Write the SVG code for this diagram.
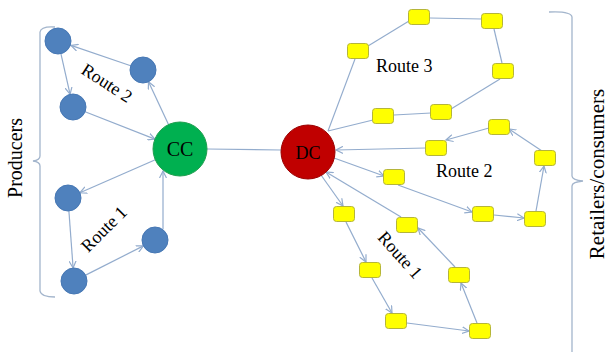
<svg xmlns="http://www.w3.org/2000/svg" width="608" height="352" viewBox="0 0 608 352">
<defs>
<style>
.e{stroke:#93ACCD;stroke-width:1.2;fill:none}
.a{marker-end:url(#ah)}
.br{stroke:#A3B5CC;stroke-width:1.3;fill:none}
.p{fill:#4F81BD;stroke:#4677B4;stroke-width:1}
.r{fill:#FFFF00;stroke:#B5B53A;stroke-width:1}
.t{font-family:"Liberation Serif","Times New Roman",serif;fill:#000}
</style>
<marker id="ah" markerWidth="9" markerHeight="8" refX="7" refY="4" orient="auto" markerUnits="userSpaceOnUse">
<path d="M0,0.5 L7,4 L0,7.5" fill="none" stroke="#93ACCD" stroke-width="1.2"/>
</marker>
</defs>
<rect width="608" height="352" fill="#fff"/>

<g id="brackets">
<path class="br" d="M55,27 Q41,26 40,32 L40,156 Q40,160 33,161 Q40,162 40,166 L40,291 Q41,297 55,297"/>
<path class="br" d="M549,12 Q571,11 572,17 L572,176 Q572,180 583,181 Q572,182 572,186 L572,352"/>
</g>

<g id="connectors">
<line class="e a" x1="130.7" y1="65.8" x2="71" y2="45.4"/>
<line class="e a" x1="60.9" y1="53.7" x2="70.1" y2="94.3"/>
<line class="e a" x1="85.1" y1="111.7" x2="154.9" y2="139.1"/>
<line class="e a" x1="168.5" y1="124.5" x2="148.5" y2="81.8"/>
<line class="e a" x1="155.3" y1="159.8" x2="79.9" y2="192.8"/>
<line class="e a" x1="68.9" y1="211" x2="73.1" y2="268"/>
<line class="e a" x1="85.6" y1="275.1" x2="143.4" y2="245.9"/>
<line class="e a" x1="163" y1="229" x2="163" y2="171"/>
<line class="e" x1="207" y1="149" x2="281" y2="150"/>
<line class="e" x1="328" y1="131" x2="355" y2="59"/>
<line class="e" x1="368" y1="46" x2="409" y2="21"/>
<line class="e" x1="430" y1="18" x2="482" y2="19"/>
<line class="e" x1="494" y1="29" x2="502" y2="63"/>
<line class="e" x1="500" y1="79" x2="451" y2="109"/>
<line class="e" x1="431" y1="113" x2="394" y2="115"/>
<line class="e" x1="373" y1="120" x2="328" y2="131"/>
<line class="e a" x1="426" y1="148" x2="336" y2="150"/>
<line class="e a" x1="334" y1="158" x2="384" y2="176"/>
<line class="e a" x1="398" y1="185" x2="472" y2="212"/>
<line class="e a" x1="494" y1="215" x2="524" y2="218"/>
<line class="e a" x1="536" y1="211" x2="544" y2="166"/>
<line class="e a" x1="542" y1="151" x2="509" y2="129"/>
<line class="e a" x1="489" y1="128" x2="446" y2="140"/>
<line class="e a" x1="321" y1="175" x2="343" y2="206"/>
<line class="e a" x1="346" y1="222" x2="366" y2="262"/>
<line class="e a" x1="372" y1="278" x2="392" y2="313"/>
<line class="e a" x1="407" y1="323" x2="469" y2="331"/>
<line class="e a" x1="477" y1="323" x2="461" y2="283"/>
<line class="e a" x1="455" y1="267" x2="418" y2="228"/>
<line class="e a" x1="401" y1="217" x2="326" y2="172"/>
</g>

<g id="P1"><circle class="p" cx="58" cy="41" r="13"/></g>
<g id="P2"><circle class="p" cx="143" cy="70" r="13"/></g>
<g id="P3"><circle class="p" cx="73" cy="107" r="13"/></g>
<g id="P4"><circle class="p" cx="68" cy="198" r="13"/></g>
<g id="P5"><circle class="p" cx="155" cy="240" r="13"/></g>
<g id="P6"><circle class="p" cx="74" cy="281" r="13"/></g>

<g id="CC"><circle cx="180" cy="149" r="27" fill="#00B050" stroke="#1E9E4E" stroke-width="1"/>
<text class="t" x="180" y="156" font-size="20" text-anchor="middle">CC</text></g>
<g id="DC"><circle cx="308" cy="152" r="27" fill="#C00000" stroke="#9A0000" stroke-width="1"/>
<text class="t" x="308" y="159" font-size="18" text-anchor="middle">DC</text></g>

<g id="R3a"><rect class="r" x="347.5" y="43.5" width="21" height="15" rx="3"/></g>
<g id="R3b"><rect class="r" x="408.5" y="9.5" width="21" height="15" rx="3"/></g>
<g id="R3c"><rect class="r" x="481.5" y="13.5" width="21" height="15" rx="3"/></g>
<g id="R3d"><rect class="r" x="492.5" y="63.5" width="21" height="15" rx="3"/></g>
<g id="R3e"><rect class="r" x="430.5" y="104.5" width="21" height="15" rx="3"/></g>
<g id="R3f"><rect class="r" x="372.5" y="108.5" width="21" height="15" rx="3"/></g>
<g id="R2a"><rect class="r" x="488.5" y="119.5" width="21" height="15" rx="3"/></g>
<g id="R2b"><rect class="r" x="425.5" y="140.5" width="21" height="15" rx="3"/></g>
<g id="R2c"><rect class="r" x="534.5" y="150.5" width="21" height="15" rx="3"/></g>
<g id="R2d"><rect class="r" x="383.5" y="169.5" width="21" height="15" rx="3"/></g>
<g id="R2e"><rect class="r" x="472.5" y="206.5" width="21" height="15" rx="3"/></g>
<g id="R2f"><rect class="r" x="524.5" y="211.5" width="21" height="15" rx="3"/></g>
<g id="R1a"><rect class="r" x="333.5" y="206.5" width="21" height="15" rx="3"/></g>
<g id="R1b"><rect class="r" x="359.5" y="262.5" width="21" height="15" rx="3"/></g>
<g id="R1c"><rect class="r" x="385.5" y="313.5" width="21" height="15" rx="3"/></g>
<g id="R1d"><rect class="r" x="469.5" y="323.5" width="21" height="15" rx="3"/></g>
<g id="R1e"><rect class="r" x="448.5" y="267.5" width="21" height="15" rx="3"/></g>
<g id="R1f"><rect class="r" x="396.5" y="217.5" width="21" height="15" rx="3"/></g>

<g id="labels">
<text class="t" font-size="18" text-anchor="middle" dominant-baseline="central" transform="translate(107,83) rotate(33)">Route 2</text>
<text class="t" font-size="18" text-anchor="middle" dominant-baseline="central" transform="translate(104,229) rotate(-45)">Route 1</text>
<text class="t" font-size="18" x="376" y="72">Route 3</text>
<text class="t" font-size="18" x="436" y="177">Route 2</text>
<text class="t" font-size="18" text-anchor="middle" dominant-baseline="central" transform="translate(400,255) rotate(48)">Route 1</text>
<text class="t" font-size="20" text-anchor="middle" transform="translate(22,158) rotate(-90)">Producers</text>
<text class="t" font-size="21" text-anchor="middle" transform="translate(604,174) rotate(-90)">Retailers/consumers</text>
</g>
</svg>
